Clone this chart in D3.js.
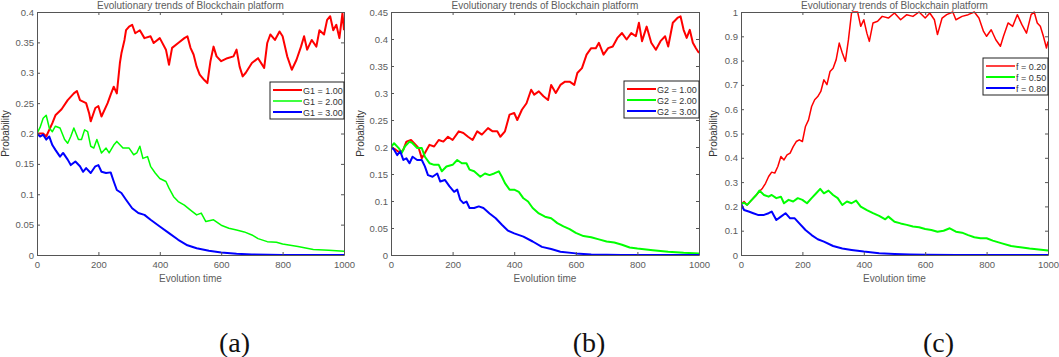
<!DOCTYPE html>
<html>
<head>
<meta charset="utf-8">
<script src="https://cdn.jsdelivr.net/npm/d3@7"></script>
<style>
  body { margin: 0; background: #fff; }
  svg { display: block; font-family: "Liberation Sans", Arial, sans-serif; }
</style>
</head>
<body>
<svg id="chart" width="1059" height="357"></svg>
<script>
// panel (a): G1 values
const aRed = [[0,0.2],[20,0.2],[30,0.195],[50,0.217],[60,0.23],[80,0.24],[100,0.255],[120,0.266],[130,0.27],[140,0.255],[160,0.25],[170,0.233],[175,0.22],[190,0.242],[200,0.245],[210,0.228],[230,0.25],[240,0.264],[250,0.277],[260,0.266],[270,0.316],[275,0.332],[285,0.354],[290,0.37],[300,0.376],[310,0.379],[320,0.365],[335,0.37],[350,0.357],[370,0.36],[380,0.349],[400,0.357],[420,0.338],[430,0.313],[440,0.341],[460,0.349],[480,0.357],[490,0.36],[500,0.341],[510,0.33],[520,0.31],[530,0.297],[545,0.288],[555,0.283],[565,0.319],[575,0.343],[585,0.327],[600,0.319],[620,0.324],[640,0.327],[650,0.338],[660,0.31],[670,0.294],[680,0.3],[700,0.316],[720,0.324],[740,0.308],[750,0.349],[760,0.363],[775,0.354],[790,0.368],[800,0.36],[815,0.327],[830,0.305],[845,0.321],[860,0.343],[870,0.36],[880,0.338],[895,0.354],[910,0.343],[920,0.37],[935,0.363],[945,0.387],[955,0.393],[965,0.37],[975,0.379],[985,0.357],[995,0.398],[1000,0.37]];
const aGreen = [[0,0.2],[10,0.21],[20,0.225],[30,0.23],[40,0.209],[50,0.203],[60,0.212],[75,0.209],[90,0.19],[100,0.184],[110,0.195],[120,0.209],[135,0.19],[145,0.19],[155,0.206],[165,0.203],[175,0.179],[185,0.176],[195,0.19],[210,0.168],[225,0.176],[235,0.168],[250,0.181],[260,0.187],[280,0.176],[300,0.176],[315,0.165],[325,0.168],[335,0.179],[345,0.159],[360,0.162],[370,0.146],[385,0.135],[400,0.126],[420,0.121],[430,0.11],[445,0.096],[460,0.088],[480,0.082],[500,0.074],[520,0.066],[535,0.069],[550,0.055],[575,0.058],[600,0.049],[625,0.044],[650,0.041],[675,0.038],[700,0.033],[720,0.027],[750,0.022],[780,0.021],[800,0.018],[850,0.014],[900,0.009],[950,0.008],[1000,0.006]];
const aBlue = [[0,0.2],[10,0.195],[20,0.198],[30,0.19],[40,0.195],[50,0.181],[60,0.173],[75,0.162],[85,0.168],[100,0.157],[110,0.148],[125,0.154],[140,0.146],[150,0.137],[160,0.143],[175,0.135],[190,0.146],[200,0.148],[210,0.137],[225,0.135],[240,0.136],[250,0.121],[260,0.107],[275,0.102],[290,0.091],[310,0.077],[330,0.069],[350,0.066],[370,0.058],[400,0.047],[430,0.036],[460,0.025],[490,0.016],[520,0.011],[560,0.007],[600,0.004],[650,0.002],[700,0.001],[800,0],[1000,0]];

// panel (b): G2 values
const bRed = [[0,0.2],[15,0.195],[30,0.189],[40,0.195],[50,0.21],[65,0.213],[75,0.207],[90,0.198],[100,0.179],[110,0.189],[125,0.204],[140,0.201],[155,0.213],[170,0.21],[185,0.219],[200,0.213],[220,0.229],[235,0.226],[250,0.219],[265,0.213],[280,0.229],[295,0.223],[315,0.235],[330,0.229],[345,0.229],[355,0.219],[370,0.229],[385,0.26],[400,0.263],[410,0.25],[425,0.269],[440,0.281],[455,0.306],[465,0.297],[480,0.303],[495,0.294],[510,0.287],[520,0.315],[535,0.3],[550,0.315],[565,0.321],[580,0.321],[595,0.315],[605,0.337],[620,0.346],[635,0.371],[650,0.383],[665,0.383],[675,0.393],[690,0.371],[705,0.383],[720,0.386],[735,0.402],[750,0.411],[765,0.399],[780,0.411],[795,0.405],[805,0.43],[815,0.396],[830,0.423],[845,0.393],[860,0.38],[875,0.396],[890,0.405],[900,0.386],[915,0.43],[930,0.439],[940,0.442],[950,0.417],[960,0.402],[970,0.417],[980,0.393],[990,0.383],[1000,0.374]];
const bGreen = [[0,0.2],[10,0.207],[25,0.198],[35,0.189],[45,0.201],[60,0.21],[70,0.207],[85,0.198],[100,0.198],[110,0.182],[125,0.17],[140,0.167],[155,0.167],[165,0.155],[180,0.164],[200,0.167],[215,0.176],[230,0.17],[245,0.17],[255,0.158],[270,0.155],[290,0.145],[305,0.151],[320,0.148],[335,0.151],[350,0.155],[360,0.145],[370,0.133],[385,0.121],[400,0.121],[415,0.117],[430,0.105],[445,0.099],[460,0.087],[480,0.077],[500,0.071],[520,0.068],[540,0.059],[560,0.053],[580,0.048],[600,0.041],[625,0.035],[650,0.033],[675,0.029],[700,0.025],[725,0.023],[750,0.019],[775,0.014],[800,0.012],[850,0.009],[900,0.006],[950,0.004],[1000,0.003]];
const bBlue = [[0,0.2],[10,0.195],[20,0.185],[30,0.192],[40,0.176],[50,0.179],[60,0.17],[70,0.182],[85,0.176],[100,0.176],[110,0.164],[120,0.148],[135,0.145],[150,0.151],[160,0.136],[175,0.139],[190,0.127],[205,0.117],[215,0.121],[225,0.102],[235,0.096],[245,0.099],[255,0.087],[270,0.087],[285,0.09],[300,0.087],[320,0.077],[340,0.068],[360,0.056],[380,0.045],[400,0.04],[430,0.034],[460,0.025],[490,0.015],[520,0.011],[550,0.006],[600,0.003],[650,0.001],[750,0],[1000,0]];

// panel (c): f values
const cRed = [[0,0.21],[10,0.22],[20,0.206],[30,0.22],[40,0.234],[55,0.254],[70,0.275],[80,0.295],[90,0.323],[100,0.341],[110,0.337],[120,0.364],[130,0.405],[140,0.391],[150,0.412],[160,0.419],[170,0.446],[180,0.467],[190,0.474],[200,0.467],[210,0.529],[220,0.556],[230,0.611],[240,0.639],[250,0.652],[260,0.673],[270,0.721],[280,0.701],[290,0.755],[300,0.769],[310,0.804],[320,0.872],[330,0.831],[340,0.797],[350,0.886],[360,0.996],[365,1],[380,1],[390,0.941],[400,0.968],[410,0.913],[418,0.879],[430,0.955],[445,0.962],[460,0.982],[480,0.975],[500,0.996],[520,0.968],[540,0.989],[560,0.982],[580,1],[600,0.975],[615,0.996],[630,0.968],[640,0.907],[655,0.975],[670,0.989],[690,1],[700,0.968],[720,0.982],[740,0.989],[760,1],[775,0.975],[790,0.92],[800,0.9],[815,0.927],[830,0.886],[845,0.859],[855,0.9],[870,0.955],[885,0.941],[900,0.989],[915,0.948],[930,0.913],[945,0.989],[955,1],[965,0.955],[975,0.941],[985,0.9],[995,0.852],[1000,0.879]];
const cGreen = [[0,0.21],[10,0.215],[20,0.206],[35,0.227],[50,0.247],[60,0.265],[75,0.247],[90,0.24],[100,0.247],[115,0.234],[130,0.24],[140,0.213],[155,0.227],[170,0.22],[185,0.234],[200,0.227],[215,0.213],[230,0.234],[245,0.254],[258,0.272],[270,0.254],[285,0.265],[300,0.247],[315,0.234],[330,0.206],[345,0.22],[360,0.213],[375,0.224],[390,0.199],[410,0.185],[430,0.172],[450,0.161],[470,0.147],[480,0.158],[500,0.137],[520,0.13],[540,0.124],[560,0.117],[580,0.114],[600,0.107],[620,0.103],[640,0.096],[660,0.1],[680,0.11],[700,0.096],[720,0.092],[740,0.082],[760,0.073],[780,0.069],[800,0.069],[820,0.059],[850,0.048],[880,0.037],[910,0.032],[940,0.027],[970,0.023],[1000,0.018]];
const cBlue = [[0,0.21],[10,0.185],[25,0.179],[40,0.172],[55,0.165],[75,0.165],[90,0.172],[100,0.179],[115,0.144],[130,0.158],[145,0.172],[160,0.151],[175,0.151],[190,0.13],[210,0.103],[230,0.082],[250,0.065],[270,0.055],[300,0.037],[330,0.027],[360,0.021],[400,0.014],[450,0.007],[500,0.004],[550,0.002],[600,0.001],[700,0],[1000,0]];

const xTicks = [0, 200, 400, 600, 800, 1000];
const yTicksA = [0, 0.05, 0.1, 0.15, 0.2, 0.25, 0.3, 0.35, 0.4];
const yTicksB = [0, 0.05, 0.1, 0.15, 0.2, 0.25, 0.3, 0.35, 0.4, 0.45];
const yTicksC = [0, 0.1, 0.2, 0.3, 0.4, 0.5, 0.6, 0.7, 0.8, 0.9, 1];
const legendA = ["G1 = 1.00", "G1 = 2.00", "G1 = 3.00"];
const legendB = ["G2 = 1.00", "G2 = 2.00", "G2 = 3.00"];
const legendC = ["f = 0.20", "f = 0.50", "f = 0.80"];
const colors = ["#ff0000", "#00ff00", "#0000ff"];

const panels = [
  { left: 37, right: 344, yMax: 0.4, yTicks: yTicksA, series: [aRed, aGreen, aBlue], names: legendA,
    widths: [2, 1.5, 2], legend: { x: 270, y: 82, w: 74 }, ylabX: 6, tag: "(a)" },
  { left: 391, right: 699, yMax: 0.45, yTicks: yTicksB, series: [bRed, bGreen, bBlue], names: legendB,
    widths: [2, 2, 2], legend: { x: 624, y: 81, w: 75 }, ylabX: 361, tag: "(b)" },
  { left: 741, right: 1048, yMax: 1, yTicks: yTicksC, series: [cRed, cGreen, cBlue], names: legendC,
    widths: [1.5, 2, 2], legend: { x: 983, y: 58, w: 65 }, ylabX: 714, tag: "(c)" }
];

const plotTop = 12, plotBottom = 255;
const axisColor = "#555";
const textColor = "#5c5c5c";
const svg = d3.select("#chart");

panels.forEach(p => {
  const x = d3.scaleLinear().domain([0, 1000]).range([p.left, p.right]);
  const y = d3.scaleLinear().domain([0, p.yMax]).range([plotBottom, plotTop]);
  const g = svg.append("g");

  // lines
  const line = d3.line().x(d => x(d[0])).y(d => y(d[1]));
  const clipId = "clip" + p.tag.replace(/\W/g, "");
  g.append("clipPath").attr("id", clipId)
    .append("rect").attr("x", p.left).attr("y", plotTop - 1)
    .attr("width", p.right - p.left).attr("height", plotBottom - plotTop + 2);
  p.series.forEach((s, i) => {
    g.append("path")
      .datum(s)
      .attr("clip-path", `url(#${clipId})`)
      .attr("fill", "none")
      .attr("stroke", colors[i])
      .attr("stroke-width", p.widths[i])
      .attr("stroke-linejoin", "round")
      .attr("d", line);
  });

  // axes, MATLAB style box with inward ticks
  const styleAxis = sel => {
    sel.select(".domain").attr("stroke", axisColor);
    sel.selectAll(".tick line").attr("stroke", axisColor);
    sel.selectAll("text").attr("fill", textColor).style("font-size", "9.5px")
      .style("font-family", "Liberation Sans, Arial, sans-serif");
  };
  g.append("g").attr("transform", `translate(0,${plotBottom})`)
    .call(d3.axisBottom(x).tickValues(xTicks).tickSizeInner(-3).tickSizeOuter(0).tickPadding(6).tickFormat(d3.format("d")))
    .call(styleAxis);
  g.append("g").attr("transform", `translate(0,${plotTop})`)
    .call(d3.axisTop(x).tickValues(xTicks).tickSizeInner(-3).tickSizeOuter(0).tickFormat(""))
    .call(styleAxis);
  g.append("g").attr("transform", `translate(${p.left},0)`)
    .call(d3.axisLeft(y).tickValues(p.yTicks).tickSizeInner(-3).tickSizeOuter(0).tickPadding(3).tickFormat(d3.format("~g")))
    .call(styleAxis);
  g.append("g").attr("transform", `translate(${p.right},0)`)
    .call(d3.axisRight(y).tickValues(p.yTicks).tickSizeInner(-3).tickSizeOuter(0).tickFormat(""))
    .call(styleAxis);

  // title and labels
  const cx = (p.left + p.right) / 2;
  g.append("text").attr("x", cx).attr("y", 9).attr("text-anchor", "middle")
    .attr("fill", textColor).style("font-size", "10px")
    .text("Evolutionary trends of Blockchain platform");
  g.append("text").attr("x", cx).attr("y", 282).attr("text-anchor", "middle")
    .attr("fill", textColor).style("font-size", "10px")
    .text("Evolution time");
  g.append("text")
    .attr("transform", `translate(${p.ylabX + 3},${(plotTop + plotBottom) / 2}) rotate(-90)`)
    .attr("text-anchor", "middle").attr("fill", "#333").style("font-size", "10px")
    .text("Probability");
  g.append("text").attr("x", cx + 44).attr("y", 352).attr("text-anchor", "middle")
    .attr("fill", "#111").style("font-family", "Liberation Serif, Times New Roman, serif")
    .style("font-size", "28px")
    .text(p.tag);

  // legend
  const L = p.legend;
  const lg = g.append("g").attr("transform", `translate(${L.x},${L.y})`);
  lg.append("rect").attr("width", L.w).attr("height", 37)
    .attr("fill", "#fff").attr("stroke", "#222").attr("stroke-width", 1);
  p.names.forEach((n, i) => {
    const ry = 8 + i * 11;
    lg.append("line").attr("x1", 3).attr("x2", 32).attr("y1", ry).attr("y2", ry)
      .attr("stroke", colors[i]).attr("stroke-width", p.widths[i]);
    lg.append("text").attr("x", 33).attr("y", ry + 3.5)
      .attr("fill", "#333").style("font-size", "9px").text(n);
  });
});
</script>
</body>
</html>
